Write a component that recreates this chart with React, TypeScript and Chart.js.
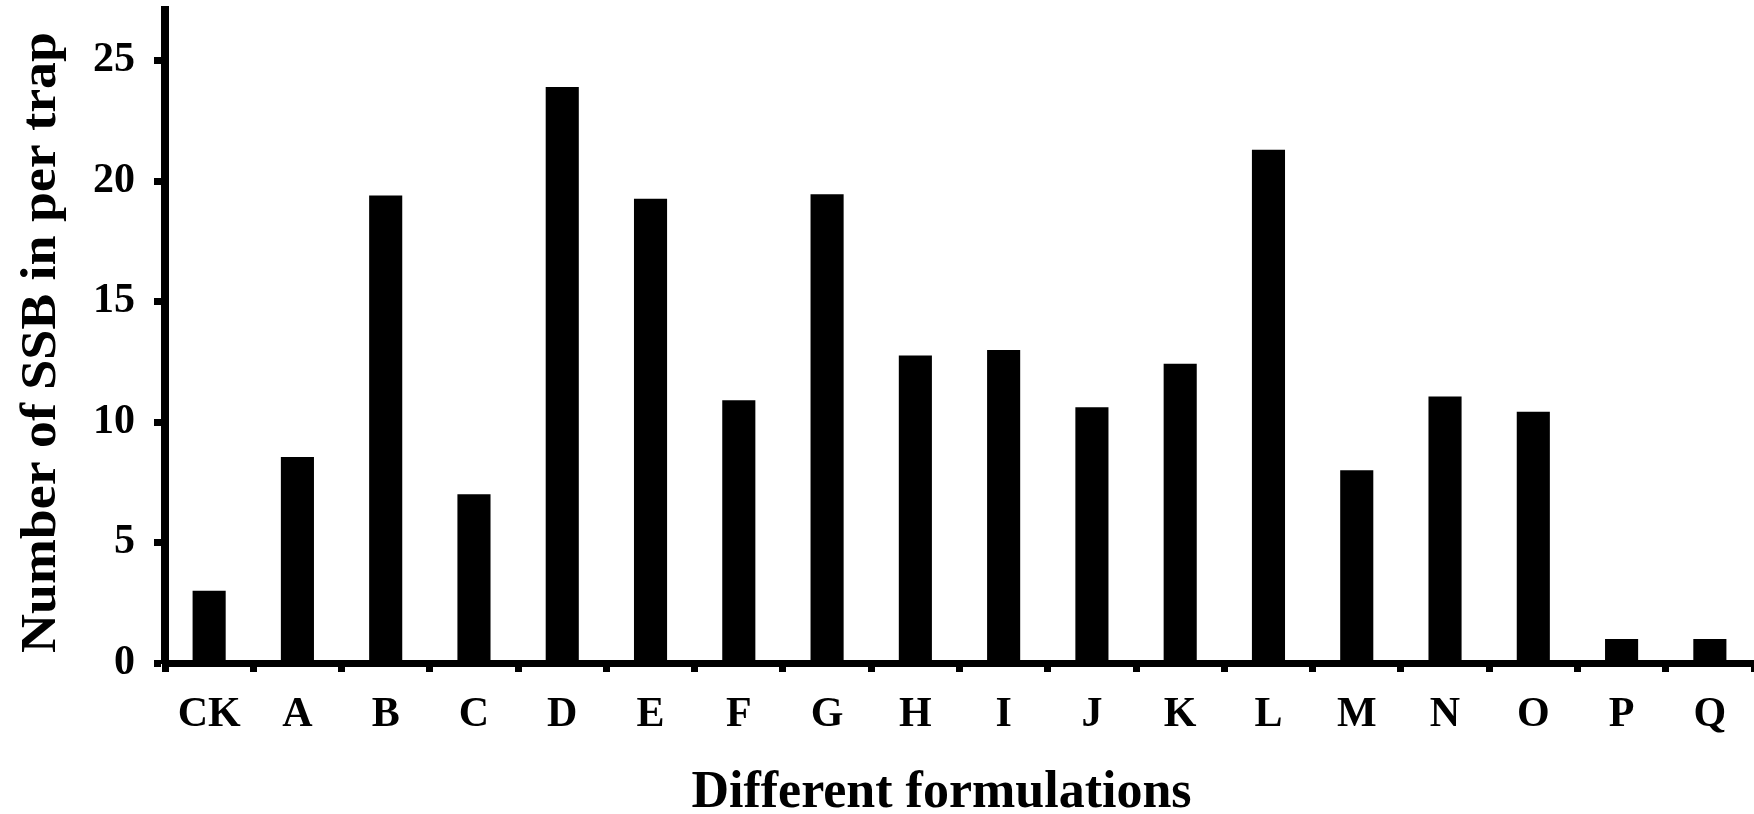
import React, { useEffect, useRef } from "react";
import { Chart, registerables } from "chart.js";

Chart.register(...registerables);

const categories = ["CK", "A", "B", "C", "D", "E", "F", "G", "H", "I", "J", "K", "L", "M", "N", "O", "P", "Q"];
const ssbCounts = [3, 8.55, 19.4, 7, 23.9, 19.27, 10.9, 19.45, 12.76, 12.99, 10.61, 12.42, 21.3, 8.0, 11.06, 10.43, 1.0, 1.0];
const yTickValues = [0, 5, 10, 15, 20, 25];
const yAxisTitle = "Number of SSB in per trap";
const xAxisTitle = "Different formulations";

const FONT = "'Liberation Serif', 'Times New Roman', serif";

const titlePlugin = {
  id: "axisTitles",
  afterDraw(chart: any) {
    const { ctx, chartArea } = chart;
    ctx.save();
    ctx.fillStyle = "#000";
    ctx.font = `bold 52px ${FONT}`;
    ctx.textAlign = "center";
    ctx.textBaseline = "alphabetic";
    ctx.fillText(xAxisTitle, (chartArea.left + chartArea.right) / 2 - 18, chart.height - 7);
    ctx.translate(55, (chartArea.top + chartArea.bottom) / 2 + 6);
    ctx.rotate(-Math.PI / 2);
    ctx.scale(1.056, 1);
    ctx.font = `bold 51px ${FONT}`;
    ctx.fillText(yAxisTitle, 0, 0);
    ctx.restore();
  },
};

export default function App() {
  const ref = useRef<HTMLCanvasElement | null>(null);
  useEffect(() => {
    document.body.style.margin = "0";
    const chart = new Chart(ref.current as HTMLCanvasElement, {
      type: "bar",
      data: {
        labels: categories,
        datasets: [
          {
            data: ssbCounts,
            backgroundColor: "#000",
            borderWidth: 0,
            barPercentage: 0.375,
            categoryPercentage: 1,
          },
        ],
      },
      options: {
        animation: false,
        responsive: true,
        maintainAspectRatio: false,
        layout: { padding: { top: 10, left: 0, right: 0, bottom: 0 } },
        plugins: { legend: { display: false }, tooltip: { enabled: false } },
        scales: {
          x: {
            offset: true,
            grid: { display: true, drawOnChartArea: false, offset: true, tickLength: 9, tickWidth: 7, tickColor: "#000" },
            border: { display: true, color: "#000", width: 7 },
            ticks: { color: "#000", padding: 18, font: { family: FONT, size: 42, weight: "bold" }, maxRotation: 0, autoSkip: false },
            afterFit: (s: any) => {
              s.height = 151;
              s.paddingLeft = 0;
              s.paddingRight = 0;
            },
          },
          y: {
            min: 0,
            max: 27.1,
            grid: { display: true, drawOnChartArea: false, tickLength: 11, tickWidth: 7, tickColor: "#000" },
            border: { display: true, color: "#000", width: 8 },
            ticks: { color: "#000", padding: 19, font: { family: FONT, size: 42, weight: "bold" } },
            afterBuildTicks: (s: any) => {
              s.ticks = yTickValues.map((v) => ({ value: v }));
            },
            afterFit: (s: any) => {
              s.width = 165;
              s.paddingTop = 0;
              s.paddingBottom = 0;
            },
          },
        },
      },
      plugins: [titlePlugin],
    });
    return () => chart.destroy();
  }, []);
  return (
    <div style={{ position: "absolute", left: 0, top: 0, width: 1754, height: 814, background: "#fff" }}>
      <canvas ref={ref} />
    </div>
  );
}
